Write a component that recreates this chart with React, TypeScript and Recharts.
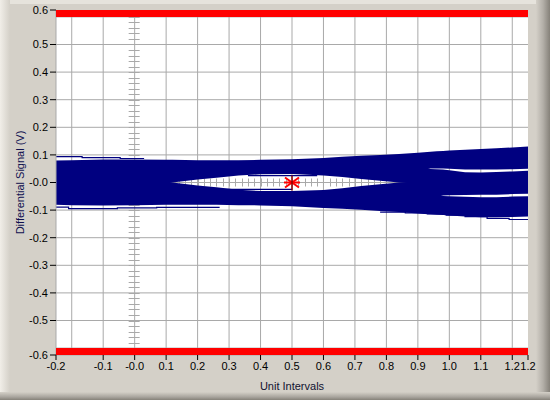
import {
  ComposedChart,
  Area,
  Line,
  Scatter,
  XAxis,
  YAxis,
  CartesianGrid,
  ReferenceArea,
} from "recharts";

// sample positions along the unit interval
const unitIntervals = [
  -0.25, -0.2, -0.1, 0.0, 0.1, 0.12, 0.2, 0.26, 0.33, 0.4, 0.5, 0.6, 0.66, 0.72,
  0.78, 0.84, 0.9, 0.92, 0.94, 0.96, 0.98, 1.0, 1.05, 1.1, 1.15, 1.2, 1.25,
];

// envelope of all traces (V)
const outerTop = [
  0.08, 0.081, 0.083, 0.083, 0.082, 0.082, 0.081, 0.081, 0.081, 0.082, 0.084,
  0.089, 0.093, 0.097, 0.1, 0.103, 0.108, 0.11, 0.111, 0.113, 0.114, 0.116,
  0.119, 0.121, 0.124, 0.127, 0.13,
];
const outerBottom = [
  -0.081, -0.082, -0.083, -0.082, -0.081, -0.081, -0.081, -0.081, -0.082,
  -0.083, -0.086, -0.092, -0.095, -0.099, -0.103, -0.107, -0.112, -0.114,
  -0.115, -0.117, -0.118, -0.12, -0.123, -0.126, -0.126, -0.125, -0.123,
];

// eye opening (top < bottom means closed)
const eyeTop = [
  -0.004, -0.004, -0.004, -0.004, -0.004, 0, 0.011, 0.017, 0.025, 0.03, 0.031,
  0.025, 0.02, 0.013, 0.006, 0, -0.004, -0.004, -0.004, -0.004, -0.004,
  -0.004, -0.004, -0.004, -0.004, -0.004, -0.004,
];
const eyeBottom = [
  0.004, 0.004, 0.004, 0.004, 0.004, 0, -0.011, -0.017, -0.026, -0.031, -0.031,
  -0.027, -0.021, -0.013, -0.006, 0, 0.004, 0.004, 0.004, 0.004, 0.004, 0.004,
  0.004, 0.004, 0.004, 0.004, 0.004,
];

// thin openings on the right side
const upperGapTop = [
  0.046, 0.046, 0.046, 0.046, 0.046, 0.046, 0.046, 0.046, 0.046, 0.046, 0.046,
  0.046, 0.046, 0.046, 0.046, 0.046, 0.046, 0.046, 0.0505, 0.051, 0.051, 0.05,
  0.047, 0.047, 0.047, 0.048, 0.05,
];
const upperGapBottom = [
  0.052, 0.052, 0.052, 0.052, 0.052, 0.052, 0.052, 0.052, 0.052, 0.052, 0.052,
  0.052, 0.052, 0.052, 0.052, 0.052, 0.052, 0.052, 0.0485, 0.048, 0.047, 0.044,
  0.037, 0.036, 0.038, 0.04, 0.043,
];
const lowerGapTop = [
  -0.052, -0.052, -0.052, -0.052, -0.052, -0.052, -0.052, -0.052, -0.052,
  -0.052, -0.052, -0.052, -0.052, -0.052, -0.052, -0.052, -0.052, -0.052,
  -0.052, -0.052, -0.047, -0.046, -0.045, -0.044, -0.044, -0.042, -0.041,
];
const lowerGapBottom = [
  -0.044, -0.044, -0.044, -0.044, -0.044, -0.044, -0.044, -0.044, -0.044,
  -0.044, -0.044, -0.044, -0.044, -0.044, -0.044, -0.044, -0.044, -0.044,
  -0.044, -0.044, -0.049, -0.05, -0.052, -0.053, -0.053, -0.051, -0.05,
];

// stray single traces just outside / inside the main bands
const strayUpperX = [-0.25, -0.167, -0.046, 0.03];
const strayUpperY = [0.094, 0.09, 0.087, 0.087];
const strayLowerX = [-0.25, -0.21, -0.055, 0.07, 0.27];
const strayLowerY = [-0.089, -0.095, -0.092, -0.09, -0.09];
const strayRightX = [0.78, 0.86, 0.93, 0.99, 1.05, 1.12, 1.19, 1.25];
const strayRightY = [-0.107, -0.11, -0.114, -0.118, -0.124, -0.13, -0.134, -0.134];
const eyeInnerTopX = [0.36, 0.58];
const eyeInnerTopY = [0.025, 0.025];
const eyeInnerBottomX = [0.28, 0.5];
const eyeInnerBottomY = [-0.025, -0.025];

const markerPoint = [{ x: 0.5, y: 0.0 }];

const xTickValues = [
  -0.25, -0.1, 0, 0.1, 0.2, 0.3, 0.4, 0.5, 0.6, 0.7, 0.8, 0.9, 1.0, 1.1, 1.2, 1.25,
];
const xTickLabels = [
  "-0.2", "-0.1", "-0.0", "0.1", "0.2", "0.3", "0.4", "0.5", "0.6", "0.7",
  "0.8", "0.9", "1.0", "1.1", "1.2", "1.2",
];
const yTickValues = [
  0.625, 0.5, 0.4, 0.3, 0.2, 0.1, 0, -0.1, -0.2, -0.3, -0.4, -0.5, -0.625,
];
const yTickLabels = [
  "0.6", "0.5", "0.4", "0.3", "0.2", "0.1", "-0.0", "-0.1", "-0.2", "-0.3",
  "-0.4", "-0.5", "-0.6",
];
const gridX = [-0.2, -0.1, 0.1, 0.2, 0.3, 0.4, 0.5, 0.6, 0.7, 0.8, 0.9, 1.0, 1.1, 1.2];
const gridY = [-0.6, -0.5, -0.4, -0.3, -0.2, -0.1, 0, 0.1, 0.2, 0.3, 0.4, 0.5, 0.6];

const X_MIN = -0.25;
const X_MAX = 1.25;
const Y_LIM = 0.625;
const MASK = 0.6;

// ruler ticks every 0.02 on the zero lines
const rulerYTicks = Array.from({ length: 61 }, (_, i) => ({ x: 0, y: -0.6 + i * 0.02 }));
const rulerXTicks = Array.from({ length: 74 }, (_, i) => ({ x: -0.24 + i * 0.02, y: 0 }));
const rulerVLine = [{ x: 0, y: -Y_LIM }, { x: 0, y: Y_LIM }];
const rulerHLine = [{ x: X_MIN, y: 0 }, { x: X_MAX, y: 0 }];

const data = unitIntervals.map((x, i) => ({
  x,
  b1: [upperGapTop[i], outerTop[i]],
  b2: [eyeTop[i], upperGapBottom[i]],
  b3: [lowerGapTop[i], eyeBottom[i]],
  b4: [outerBottom[i], lowerGapBottom[i]],
}));

const toPoints = (xs: number[], ys: number[]) => xs.map((x, i) => ({ x, y: ys[i] }));
const strayTraces = [
  toPoints(strayUpperX, strayUpperY),
  toPoints(strayLowerX, strayLowerY),
  toPoints(strayRightX, strayRightY),
  toPoints(eyeInnerTopX, eyeInnerTopY),
  toPoints(eyeInnerBottomX, eyeInnerBottomY),
];

const GRID = "#a9a9a9";
const NAVY = "#000080";
const tickStyle = { fill: "#000", fontSize: 11, fontFamily: "Liberation Sans" };

const labelFor = (values: number[], labels: string[]) => (v: number) => {
  const i = values.findIndex((t) => Math.abs(t - v) < 1e-9);
  return i >= 0 ? labels[i] : "";
};

const HTick = (props: any) => {
  const y = Math.round(props.cy) + 0.5;
  return <line x1={props.cx - 6} x2={props.cx + 5} y1={y} y2={y} stroke={GRID} />;
};
const VTick = (props: any) => {
  const x = Math.round(props.cx) + 0.5;
  return <line x1={x} x2={x} y1={props.cy - 4} y2={props.cy + 4} stroke={GRID} />;
};
const Star = (props: any) => {
  const { cx, cy } = props;
  return (
    <g>
      <line x1={cx - 8} x2={cx + 8} y1={cy} y2={cy} stroke="#ff0000" strokeWidth={2} />
      <line x1={cx - 7} x2={cx + 7} y1={cy - 5} y2={cy + 5} stroke="#ff0000" strokeWidth={2} />
      <line x1={cx - 7} x2={cx + 7} y1={cy + 5} y2={cy - 5} stroke="#ff0000" strokeWidth={2} />
      <line x1={cx} x2={cx} y1={cy - 7} y2={cy + 8} stroke="#8b0000" strokeWidth={1.5} />
    </g>
  );
};

export default function App() {
  return (
    <div
      style={{
        position: "relative",
        width: 550,
        height: 400,
        background: "#d4d0c8",
        overflow: "hidden",
      }}
    >
      <style>{`body{margin:0}`}</style>
      <div style={{ position: "absolute", left: 0, top: 0, width: 550, height: 4, background: "#e6e3dc" }} />
      <div style={{ position: "absolute", left: 0, top: 0, width: 10, height: 400, background: "linear-gradient(to right, #f1eee8, #d4d0c8)" }} />
      <div style={{ position: "absolute", right: 0, top: 0, width: 14, height: 400, background: "linear-gradient(to right, #d4d0c8, #b3afa8 50%, #858179)" }} />
      <div style={{ position: "absolute", left: 0, bottom: 0, width: 550, height: 8, background: "linear-gradient(to bottom, #d4d0c8, #aaa69f 60%, #858179)" }} />
      <div style={{ position: "absolute", left: 0, top: 0 }}>
        <ComposedChart
          width={550}
          height={400}
          data={data}
          margin={{ top: 10, right: 22, bottom: 0, left: 0 }}
        >
          <CartesianGrid
            fill="#ffffff"
            stroke={GRID}
            strokeDasharray=""
            horizontalValues={gridY}
            verticalValues={gridX}
          />
          <XAxis
            dataKey="x"
            type="number"
            domain={[X_MIN, X_MAX]}
            allowDataOverflow
            ticks={xTickValues}
            interval={0}
            tickFormatter={labelFor(xTickValues, xTickLabels)}
            tick={tickStyle}
            tickSize={5}
            tickMargin={2}
            tickLine={{ stroke: "#000" }}
            axisLine={{ stroke: GRID }}
            height={45}
            label={{
              value: "Unit Intervals",
              position: "insideBottom",
              offset: 10,
              fill: "#101030",
              fontSize: 11,
              fontFamily: "Liberation Sans",
            }}
          />
          <YAxis
            type="number"
            domain={[-Y_LIM, Y_LIM]}
            allowDataOverflow
            ticks={yTickValues}
            interval={0}
            tickFormatter={labelFor(yTickValues, yTickLabels)}
            tick={tickStyle}
            tickSize={6}
            tickMargin={2}
            tickLine={{ stroke: "#000" }}
            axisLine={{ stroke: GRID }}
            width={56}
            label={{
              value: "Differential Signal (V)",
              angle: -90,
              position: "center",
              dx: -8,
              fill: "#101050",
              fontSize: 11,
              fontFamily: "Liberation Sans",
            }}
          />
          <Line data={rulerVLine} dataKey="y" stroke={GRID} dot={false} activeDot={false} isAnimationActive={false} zIndex={-50} />
          <Line data={rulerHLine} dataKey="y" stroke={GRID} dot={false} activeDot={false} isAnimationActive={false} zIndex={-50} />
          <Scatter data={rulerYTicks} dataKey="y" shape={HTick} isAnimationActive={false} zIndex={-50} />
          <Scatter data={rulerXTicks} dataKey="y" shape={VTick} isAnimationActive={false} zIndex={-50} />
          {["b1", "b2", "b3", "b4"].map((k) => (
            <Area
              key={k}
              type="linear"
              dataKey={k}
              stroke="none"
              fill={NAVY}
              fillOpacity={1}
              dot={false}
              activeDot={false}
              isAnimationActive={false}
            />
          ))}
          {strayTraces.map((pts, i) => (
            <Line
              key={`stray-${i}`}
              data={pts}
              dataKey="y"
              type="stepAfter"
              stroke={NAVY}
              strokeWidth={1.2}
              dot={false}
              activeDot={false}
              isAnimationActive={false}
            />
          ))}
          <ReferenceArea y1={MASK} y2={Y_LIM} fill="#ff0000" fillOpacity={1} stroke="none" zIndex={800} />
          <ReferenceArea y1={-Y_LIM} y2={-MASK} fill="#ff0000" fillOpacity={1} stroke="none" zIndex={800} />
          <Scatter data={markerPoint} dataKey="y" shape={Star} isAnimationActive={false} zIndex={900} />
        </ComposedChart>
      </div>
    </div>
  );
}
